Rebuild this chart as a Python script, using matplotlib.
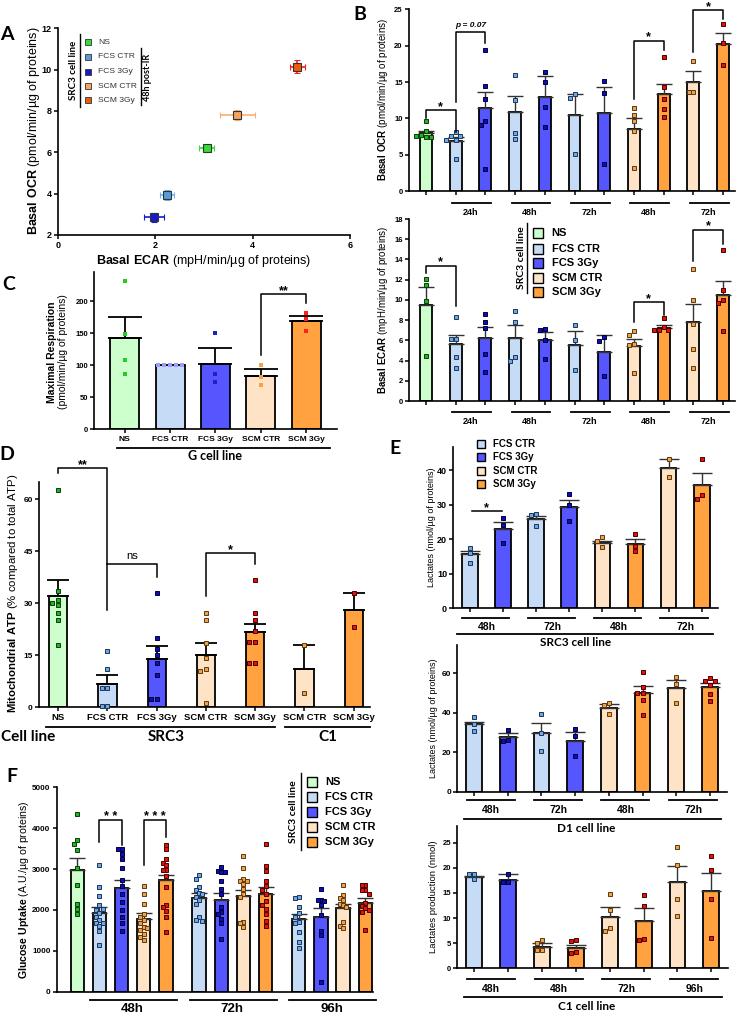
import numpy as np
import matplotlib
matplotlib.use("Agg")
import matplotlib.pyplot as plt
from matplotlib.lines import Line2D
from matplotlib.transforms import blended_transform_factory

plt.rcParams['font.family'] = ['Liberation Sans', 'DejaVu Sans']
plt.rcParams['mathtext.fontset'] = 'custom'
plt.rcParams['mathtext.rm'] = 'Liberation Sans'
plt.rcParams['mathtext.bf'] = 'Liberation Sans:bold'
plt.rcParams['axes.linewidth'] = 1.2

W, H = 738, 1015

# ---------------- data ----------------
conds = ['NS', 'FCS CTR', 'FCS 3Gy', 'SCM CTR', 'SCM 3Gy']

# A : basal OCR vs basal ECAR
a_ecar = [3.06, 2.24, 1.98, 3.69, 4.92]
a_ecar_err = [0.15, 0.15, 0.2, 0.35, 0.15]
a_ocr = [6.2, 3.95, 2.85, 7.82, 10.15]
a_ocr_err = [0.15, 0.25, 0.22, 0.25, 0.3]

# B : basal OCR / ECAR over time
b_cond = ['NS', 'FCS CTR', 'FCS 3Gy', 'FCS CTR', 'FCS 3Gy', 'FCS CTR', 'FCS 3Gy',
          'SCM CTR', 'SCM 3Gy', 'SCM CTR', 'SCM 3Gy']
b_times = ['24h', '48h', '72h', '48h', '72h']
ocr_mean = [8.0, 6.9, 11.4, 10.95, 12.95, 10.45, 10.8, 8.6, 13.35, 15.05, 20.2]
ocr_sem = [0.3, 0.5, 2.3, 2.1, 2.9, 2.9, 3.5, 1.45, 1.45, 1.5, 1.6]
ocr_pts = [[9.6, 8.3, 7.8, 7.5, 7.4, 7.6], [8.1, 7.6, 7.6, 7.0, 7.0, 4.5],
           [19.4, 14.5, 12.65, 9.67, 9.12, 3.0], [16.0, 12.6, 7.98, 7.24],
           [16.4, 15.0, 11.64, 8.9], [13.4, 12.8, 5.1], [15.1, 13.5, 3.8],
           [11.4, 10.45, 9.7, 8.3, 3.2], [18.4, 14.3, 12.7, 11.3, 10.2],
           [17.9, 13.65, 13.65], [23.0, 20.35, 17.4]]
ecar_mean = [9.47, 5.6, 6.2, 6.25, 6.05, 5.5, 4.85, 5.45, 7.25, 7.8, 10.5]
ecar_sem = [1.85, 0.9, 1.1, 1.25, 0.75, 1.4, 1.65, 0.7, 0.3, 1.75, 1.34]
ecar_pts = [[12.1, 11.45, 9.86, 4.5], [8.3, 6.17, 6.17, 4.4, 3.28],
            [8.57, 7.8, 7.2, 4.6, 2.9], [8.9, 7.8, 4.4, 3.97], [7.15, 7.0, 6.0, 4.16],
            [7.5, 6.07, 3.1], [6.3, 5.95, 2.5], [6.9, 6.56, 5.6, 5.5, 2.8],
            [8.2, 7.3, 7.05, 7.0, 7.0], [13.1, 9.96, 7.6, 5.15, 3.25],
            [14.9, 11.0, 10.0, 9.73, 6.92]]

# C : maximal respiration, G cell line
c_mean = [142.5, 100, 102, 83, 168.5]
c_sem = [33, 0, 25, 10.4, 9]
c_pts = [[231, 148, 108, 87], [100, 100, 100, 100, 100], [149.5, 86.6, 73.7],
         [100, 82, 69.5], [181.7, 171.8, 153.6]]

# D : mitochondrial ATP
d_cond = ['NS', 'FCS CTR', 'FCS 3Gy', 'SCM CTR', 'SCM 3Gy', 'SCM CTR', 'SCM 3Gy']
d_mean = [32.0, 6.5, 13.9, 15.0, 21.5, 10.9, 28.0]
d_sem = [4.6, 2.6, 3.7, 3.4, 2.5, 7.1, 5.0]
d_pts = [[62.6, 33.5, 31, 29.5, 27, 25, 17.8, 30], [16.2, 10.9, 5.4, 5.4, 0.3, 0.3],
         [33, 20, 16.6, 15, 12.8, 9.2, 2.3, 2.3], [27, 25, 18.4, 14, 11, 10.4, 1.1],
         [36.6, 27, 25, 22, 18.8, 18.8, 12.6, 12.6], [18, 4.1], [33, 23]]

# E : lactates
e_cond = ['FCS CTR', 'FCS 3Gy', 'FCS CTR', 'FCS 3Gy', 'SCM CTR', 'SCM 3Gy', 'SCM CTR', 'SCM 3Gy']
e_times = ['48h', '72h', '48h', '72h']
e1_mean = [15.55, 22.8, 25.7, 29.2, 18.9, 18.55, 40.6, 35.6]
e1_sem = [1.1, 2.2, 0.9, 2.1, 0.6, 1.4, 2.6, 3.7]
e1_pts = [[17.5, 16.1, 13.2], [26, 24.1, 18.8], [27.3, 26.9, 23.9], [33, 29.9, 25.2],
          [20.5, 19.5, 17.6], [21.4, 18.0, 16.6], [43.2, 38.1], [43.1, 32.8, 31.5]]
e2_mean = [34.1, 27.5, 29.6, 25.8, 42.2, 49.8, 52.5, 52.9]
e2_sem = [1.3, 2.1, 5.4, 4.6, 2.2, 3.7, 4.1, 2.3]
e2_pts = [[37.7, 34.3, 30.7], [31.2, 26.2, 25.7], [39.2, 29.6, 20.8], [31.9, 28.4, 18.1],
          [44.7, 43.9, 39.2], [60.8, 53, 49.8, 49.8, 46.4, 38.8], [58.2, 54.7, 45.1],
          [57.4, 56.2, 56.0, 54.0, 49.5, 45.9]]
e3_cond = ['FCS CTR', 'FCS 3Gy', 'SCM CTR', 'SCM 3Gy', 'SCM CTR', 'SCM 3Gy', 'SCM CTR', 'SCM 3Gy']
e3_times = ['48h', '48h', '72h', '96h']
e3_mean = [18.2, 17.6, 4.3, 4.1, 10.3, 9.5, 17.1, 15.3]
e3_sem = [0.2, 1.2, 0.8, 0.6, 1.8, 2.4, 3.3, 3.7]
e3_pts = [[18.7, 18.7, 17.7], [18.8, 17.1, 17.1], [5.6, 5.1, 3.65, 3.65], [5.6, 5.4, 3.2, 3.0],
          [14.7, 11.6, 8.0, 7.4], [14.6, 12.35, 5.9, 5.6], [24.1, 20.45, 13.75, 10.5],
          [22.4, 19.5, 13.8, 6.1]]

# F : glucose uptake
f_times = ['48h', '72h', '96h']
f_mean = [2970, 1920, 2540, 1770, 2740, 2290, 2240, 2330, 2400, 1780, 1830, 2050, 2160]
f_sem = [290, 150, 190, 150, 110, 130, 180, 160, 170, 130, 210, 100, 140]
f_pts = [[4350, 3700, 3620, 3470, 3020, 2600, 2150, 2030, 1890],
         [3100, 2560, 2330, 2110, 2010, 1930, 1830, 1750, 1670, 1670, 1600, 1480, 1140, 2030],
         [3480, 3480, 3370, 3250, 3020, 2740, 2580, 2400, 2200, 1990, 1830, 1670, 1490],
         [2585, 2400, 2150, 1890, 1830, 1750, 1670, 1590, 1500, 1420, 1340, 1260, 1570],
         [3600, 3480, 3250, 3150, 3090, 2970, 2820, 2110, 2070, 1980, 1830, 1460, 2970, 2560],
         [2860, 2760, 2560, 2500, 2410, 2400, 2320, 2240, 2150, 1830, 1750, 1730],
         [3050, 2950, 2930, 2920, 2720, 2520, 2400, 2070, 1950, 1890, 1790, 1670, 1300],
         [3310, 3030, 2760, 2720, 2720, 2640, 2520, 2400, 2320, 1710, 1690, 1590],
         [3620, 3080, 2960, 2720, 2590, 2400, 2210, 2120, 2030, 1890, 1720, 1600, 2500],
         [2320, 2280, 2070, 1930, 1830, 1710, 1670, 1460, 1220, 1060],
         [2520, 2240, 2240, 2230, 2120, 1870, 1490, 1380, 240],
         [2600, 2360, 2300, 2240, 2140, 2110, 2070, 1700, 1600, 1570],
         [2620, 2600, 2500, 2480, 2400, 2160, 2100, 2050, 2000, 1950, 1500]]

# ---------------- styles ----------------
bar_col = {'NS': '#ccffcc', 'FCS CTR': '#c6dcf6', 'FCS 3Gy': '#5656ff',
           'SCM CTR': '#ffe3c6', 'SCM 3Gy': '#ffa23f'}
pt_col = {'NS': '#1fb51f', 'FCS CTR': '#6fa8e8', 'FCS 3Gy': '#0d0dbf',
          'SCM CTR': '#f3a04c', 'SCM 3Gy': '#e3120b'}
pt_edge = {'NS': '#0b3d0b', 'FCS CTR': '#1d3557', 'FCS 3Gy': '#000033',
           'SCM CTR': '#5c3a10', 'SCM 3Gy': '#4a0000'}
c_pt_col = {'NS': '#22cc22', 'FCS CTR': '#9d9dff', 'FCS 3Gy': '#2020c8',
            'SCM CTR': '#ffa040', 'SCM 3Gy': '#ff2222'}
a_fill = {'NS': '#33dd33', 'FCS CTR': '#5b9bd5', 'FCS 3Gy': '#1a1acc',
          'SCM CTR': '#f4a460', 'SCM 3Gy': '#ee5a10'}
a_err = {'NS': '#33dd33', 'FCS CTR': '#6fb0ff', 'FCS 3Gy': '#1a1acc',
         'SCM CTR': '#f9b070', 'SCM 3Gy': '#ee2020'}

fig = plt.figure(figsize=(W / 100, H / 100), dpi=100)


def fx(x):
    return x / W


def fy(y):
    return 1 - y / H


def add_ax(l, t, r, b):
    ax = fig.add_axes([l / W, 1 - b / H, (r - l) / W, (b - t) / H])
    ax.patch.set_visible(False)
    ax.spines['top'].set_visible(False)
    ax.spines['right'].set_visible(False)
    ax.tick_params(direction='out', length=3, width=1.1, pad=1.5)
    return ax


def ftext(x, y, s, **kw):
    fig.text(fx(x), fy(y), s, **kw)


def fline(xs, ys, **kw):
    fig.add_artist(Line2D([fx(x) for x in xs], [fy(y) for y in ys], **kw))


def fmark(x, y, **kw):
    fig.add_artist(Line2D([fx(x)], [fy(y)], marker='s', linestyle='none', **kw))


def swarm(vals, dy, step, maxk):
    cands = [0]
    for k in range(1, maxk + 1):
        cands += [-k, k]
    placed, offs = [], []
    for v in vals:
        best = 0
        for k in cands:
            o = k * step
            if all(abs(v - pv) >= dy or abs(o - po) >= step * 0.95 for pv, po in placed):
                best = o
                break
        placed.append((v, best))
        offs.append(best)
    return offs


def draw_bars(ax, xs, cond, means, sems, pts, width, step, dy, maxk=2, cap=6,
              ms=3.3, ecol='#333333', elw=1.0, plain=False):
    for x, c, m, s, p in zip(xs, cond, means, sems, pts):
        ax.bar(x, m, width, color=bar_col[c], edgecolor='k', linewidth=1.3, zorder=2)
        if s > 0:
            ax.errorbar(x, m, yerr=[[0], [s]], color=ecol, capsize=cap, elinewidth=elw,
                        capthick=elw, zorder=3)
        offs = np.array(swarm(p, dy, step, maxk))
        if plain:
            ax.plot(x + offs, p, 's', ms=ms, mfc=c_pt_col[c], mec=c_pt_col[c], mew=0,
                    zorder=4, clip_on=False)
        else:
            ax.plot(x + offs, p, 's', ms=ms, mfc=pt_col[c], mec=pt_edge[c], mew=0.7,
                    zorder=4, clip_on=False)


def bold_ticks(ax, size):
    for t in ax.get_yticklabels() + ax.get_xticklabels():
        t.set_fontweight('bold')
        t.set_fontsize(size)


def bracket(ax, x1, x2, top, yl, yr, s, fs=9, style='normal', weight='bold', star=True):
    xs, ys = [x1, x1, x2, x2], [top, top, top, top]
    if yl is not None:
        ys[0] = yl
    if yr is not None:
        ys[3] = yr
    ax.plot(xs, ys, color='k', lw=1.1, clip_on=False, zorder=5)
    if star:
        ax.text((x1 + x2) / 2, top, s, ha='center', va='baseline', fontsize=fs,
                fontweight=weight, clip_on=False)
    else:
        ax.annotate(s, ((x1 + x2) / 2, top), xytext=(0, 2), textcoords='offset points',
                    ha='center', va='bottom', fontsize=fs, fontstyle=style,
                    fontweight=weight, annotation_clip=False)


def groups(ax, pairs, labels, yl, yt, fs, pad=(-0.2, 0.2)):
    tr = blended_transform_factory(ax.transData, fig.transFigure)
    for (a, b), lab in zip(pairs, labels):
        ax.plot([a + pad[0], b + pad[1]], [fy(yl)] * 2, color='k', lw=1.3,
                transform=tr, clip_on=False)
        ax.text((a + b) / 2, fy(yt), lab, transform=tr, ha='center', va='center',
                fontsize=fs, fontweight='bold')


def legend(xm, xt, ys, labels, fs, ms):
    for y, lab in zip(ys, labels):
        fmark(xm, y, ms=ms, mfc=bar_col[lab], mec='k', mew=1.0)
        ftext(xt, y, lab, fontsize=fs, fontweight='bold', va='center')


# ---------------- A ----------------
axA = add_ax(57.7, 28.3, 350, 235)
for i, c in enumerate(conds):
    axA.errorbar(a_ecar[i], a_ocr[i], xerr=a_ecar_err[i], yerr=a_ocr_err[i], fmt='s',
                 ms=6, mfc=a_fill[c], mec='#333333', mew=0.8, ecolor=a_err[c],
                 elinewidth=1.2, capsize=2.5, capthick=1.2)
axA.set_xlim(0, 6)
axA.set_ylim(2, 12)
axA.set_xticks([0, 2, 4, 6])
axA.set_yticks([2, 4, 6, 8, 10, 12])
bold_ticks(axA, 6.5)
ftext(34, 131, r'$\bf{Basal\ OCR}$ (pmol/min/µg of proteins)', rotation=90,
      ha='center', va='center', fontsize=9)
ftext(204, 261, r'$\bf{Basal\ ECAR}$ (mpH/min/µg of proteins)', ha='center',
      va='center', fontsize=9)
for y, c in zip([42, 57, 71.5, 86, 100], conds):
    fmark(88, y, ms=5, mfc=a_fill[c], mec='#333333', mew=0.6)
    ftext(98, y, c, fontsize=6.1, va='center', color='#333333')
ftext(73, 70, 'SRC3 cell line', rotation=90, ha='center', va='center', fontsize=7,
      fontweight='bold', family='Lato')
fline([80, 80], [34, 107], color='k', lw=1)
ftext(147, 77, '48h post-IR', rotation=90, ha='center', va='center', fontsize=6.5,
      fontweight='bold', family='Lato')
fline([141, 141], [48, 105], color='k', lw=1)

# ---------------- B ----------------
bx = np.arange(len(b_cond))
b_pairs = [(1, 2), (3, 4), (5, 6), (7, 8), (9, 10)]

axB1 = add_ax(409, 9.3, 735, 191.3)
draw_bars(axB1, bx, b_cond, ocr_mean, ocr_sem, ocr_pts, 0.4, 0.16, 0.6, cap=5.5)
axB1.set_xlim(-0.57, 10.4)
axB1.set_ylim(0, 25)
axB1.set_yticks(np.arange(0, 26, 5))
axB1.set_xticks(bx)
axB1.set_xticklabels([])
bold_ticks(axB1, 5.5)
bracket(axB1, 0, 1, 11.1, 10.0, 8.2, '*')
bracket(axB1, 1, 2, 21.9, 12.3, 20.4, 'p = 0.07', fs=6, style='italic', star=False)
bracket(axB1, 7, 8, 20.7, 12.7, 19.4, '*')
bracket(axB1, 9, 10, 24.9, 19.2, 23.7, '*')
groups(axB1, b_pairs, b_times, 203.3, 212.3, 6.5, pad=(-0.12, 0.19))
ftext(383, 100, r'$\bf{Basal\ OCR}$ (pmol/min/µg of proteins)', rotation=90,
      ha='center', va='center', fontsize=7)

axB2 = add_ax(409, 219, 735, 401)
draw_bars(axB2, bx, b_cond, ecar_mean, ecar_sem, ecar_pts, 0.4, 0.16, 0.45, cap=5.5)
axB2.set_xlim(-0.57, 10.4)
axB2.set_ylim(0, 18)
axB2.set_yticks(np.arange(0, 19, 2))
axB2.set_xticks(bx)
axB2.set_xticklabels([])
bold_ticks(axB2, 5.5)
bracket(axB2, 0, 1, 13.4, 12.7, 9.35, '*')
bracket(axB2, 7, 8, 9.8, 7.8, 8.5, '*')
bracket(axB2, 9, 10, 16.96, 13.8, 15.5, '*')
groups(axB2, b_pairs, b_times, 412.3, 421, 6.5, pad=(-0.12, 0.19))
ftext(383, 310, r'$\bf{Basal\ ECAR}$ (mpH/min/µg of proteins)', rotation=90,
      ha='center', va='center', fontsize=7)
legend(538.3, 551.7, [232.7, 248.7, 263, 278, 292.3], conds, 8, 6.5)
ftext(521.7, 258, 'SRC3 cell line', rotation=90, ha='center', va='center', fontsize=7.5,
      fontweight='bold', family='Lato')
fline([526.7, 526.7], [223, 293], color='k', lw=1)

# ---------------- C ----------------
cx = np.arange(len(conds))
axC = add_ax(94.3, 272.3, 337, 429.3)
draw_bars(axC, cx, conds, c_mean, c_sem, c_pts, 0.64, 0.13, 7, cap=12, ms=3.3,
          ecol='k', elw=1.3, plain=True)
axC.set_xlim(-0.67, 4.68)
axC.set_ylim(0, 245)
axC.set_yticks(np.arange(0, 201, 50))
axC.set_xticks(cx)
axC.set_xticklabels(conds)
bold_ticks(axC, 5.5)
for t in axC.get_xticklabels():
    t.set_fontsize(6)
bracket(axC, 3, 4, 210.8, 115.7, 197.8, '**')
trC = blended_transform_factory(axC.transData, fig.transFigure)
axC.plot([-0.18, 4.52], [fy(447.7)] * 2, color='k', lw=1.3, transform=trC, clip_on=False)
axC.text(2, fy(456), 'G cell line', transform=trC, ha='center', va='center', fontsize=9,
         fontweight='bold', family='Lato')
ftext(51.7, 352, 'Maximal Respiration', rotation=90, ha='center', va='center',
      fontsize=7.5, fontweight='bold')
ftext(63.3, 352, '(pmol/min/µg of proteins)', rotation=90, ha='center', va='center',
      fontsize=7.5)

# ---------------- D ----------------
dx = np.arange(len(d_cond))
axD = add_ax(39, 481.7, 370, 707)
draw_bars(axD, dx, d_cond, d_mean, d_sem, d_pts, 0.37, 0.12, 1.3, cap=8, ms=3.3,
          ecol='k', elw=1.3)
axD.set_xlim(-0.39, 6.33)
axD.set_ylim(0, 65)
axD.set_yticks([0, 15, 30, 45, 60])
axD.set_xticks(dx)
axD.set_xticklabels(d_cond)
bold_ticks(axD, 6)
for t in axD.get_xticklabels():
    t.set_fontsize(6.8)
bracket(axD, 0, 1, 69, 67.4, 28, '**')
bracket(axD, 1, 2, 41.4, None, 37.6, 'ns', fs=8, weight='normal', star=False)
bracket(axD, 3, 4, 44.3, 32, 41.4, '*')
trD = blended_transform_factory(axD.transData, fig.transFigure)
axD.plot([-0.25, 4.4], [fy(727.3)] * 2, color='k', lw=1.3, transform=trD, clip_on=False)
axD.plot([4.6, 6.33], [fy(727.3)] * 2, color='k', lw=1.3, transform=trD, clip_on=False)
axD.text(2.2, fy(737), 'SRC3', transform=trD, ha='center', va='center', fontsize=11,
         fontweight='bold', family='Lato')
axD.text(5.48, fy(737), 'C1', transform=trD, ha='center', va='center', fontsize=11,
         fontweight='bold', family='Lato')
ftext(1, 737, 'Cell line', ha='left', va='center', fontsize=11, fontweight='bold',
      family='Lato')
ftext(13, 593, r'$\bf{Mitochondrial\ ATP}$ (% compared to total ATP)', rotation=90,
      ha='center', va='center', fontsize=8.2)

# ---------------- E ----------------
ex = np.arange(len(e_cond))
e_pairs = [(0, 1), (2, 3), (4, 5), (6, 7)]

axE1 = add_ax(453.3, 446.7, 718.3, 608)
draw_bars(axE1, ex, e_cond, e1_mean, e1_sem, e1_pts, 0.47, 0.15, 1.3, cap=7)
axE1.set_xlim(-0.5, 7.5)
axE1.set_ylim(0, 46.8)
axE1.set_yticks([0, 10, 20, 30, 40])
axE1.set_xticks(ex)
axE1.set_xticklabels([])
bold_ticks(axE1, 6.5)
axE1.plot([0.05, 0.98], [28.2, 28.2], color='k', lw=1.1)
axE1.text(0.5, 28.2, '*', ha='center', va='baseline', fontsize=9, fontweight='bold')
groups(axE1, e_pairs, e_times, 617.7, 627.3, 7.5, pad=(-0.25, 0.18))
trE1 = blended_transform_factory(axE1.transData, fig.transFigure)
axE1.plot([-0.38, 7.35], [fy(634.3)] * 2, color='k', lw=1.3, transform=trE1, clip_on=False)
axE1.text(3.2, fy(642.5), 'SRC3 cell line', transform=trE1, ha='center', va='center',
          fontsize=8.5, fontweight='bold', family='Lato')
ftext(431, 527, 'Lactates (nmol/µg of proteins)', rotation=90, ha='center',
      va='center', fontsize=6.5)
legend(481, 492.7, [444, 457.3, 470.7, 484], conds[1:], 7, 5.5)

axE2 = add_ax(457.3, 645, 726.7, 791.7)
draw_bars(axE2, ex, e_cond, e2_mean, e2_sem, e2_pts, 0.47, 0.15, 2.3, cap=7)
axE2.set_xlim(-0.5, 7.5)
axE2.set_ylim(0, 74.3)
axE2.set_yticks([0, 20, 40, 60])
axE2.set_xticks(ex)
axE2.set_xticklabels([])
bold_ticks(axE2, 6)
groups(axE2, e_pairs, e_times, 800, 810, 7.5, pad=(-0.22, 0.2))
trE2 = blended_transform_factory(axE2.transData, fig.transFigure)
axE2.plot([-0.29, 7.32], [fy(819.3)] * 2, color='k', lw=1.3, transform=trE2, clip_on=False)
axE2.text(3.32, fy(828.5), 'D1 cell line', transform=trE2, ha='center', va='center',
          fontsize=8.5, fontweight='bold', family='Lato')
ftext(434, 718, 'Lactates (nmol/µg of proteins)', rotation=90, ha='center',
      va='center', fontsize=6.5)

axE3 = add_ax(457.3, 826, 728.3, 968.3)
draw_bars(axE3, ex, e3_cond, e3_mean, e3_sem, e3_pts, 0.47, 0.15, 0.9, cap=7)
axE3.set_xlim(-0.5, 7.5)
axE3.set_ylim(0, 28.3)
axE3.set_yticks([0, 5, 10, 15, 20, 25])
axE3.set_xticks(ex)
axE3.set_xticklabels([])
bold_ticks(axE3, 5.5)
groups(axE3, e_pairs, e3_times, 979, 989.3, 7.5, pad=(-0.22, 0.2))
trE3 = blended_transform_factory(axE3.transData, fig.transFigure)
axE3.plot([-0.29, 7.32], [fy(997.3)] * 2, color='k', lw=1.3, transform=trE3, clip_on=False)
axE3.text(3.32, fy(1006.5), 'C1 cell line', transform=trE3, ha='center', va='center',
          fontsize=8.5, fontweight='bold', family='Lato')
ftext(434, 897, 'Lactates production (nmol)', rotation=90, ha='center', va='center',
      fontsize=6.8)

# ---------------- F ----------------
f_cond = ['NS'] + conds[1:] * 3
f_x = [0.0] + [1 + 4.5 * g + i for g in range(3) for i in range(4)]
axF = add_ax(56.7, 787.3, 373, 991.7)
draw_bars(axF, f_x, f_cond, f_mean, f_sem, f_pts, 0.6, 0.15, 110, maxk=2, cap=6, ms=3.3)
axF.set_xlim(-0.93, 13.35)
axF.set_ylim(0, 5000)
axF.set_yticks(np.arange(0, 5001, 1000))
axF.set_xticks([])
bold_ticks(axF, 5.8)
bracket(axF, 1, 2, 4200, 3660, 3580, '* *')
bracket(axF, 3, 4, 4200, 3110, 3780, '* * *')
groups(axF, [(1, 4), (5.5, 8.5), (10, 13)], f_times, 1000, 1009, 9.5, pad=(-0.42, 0.5))
ftext(24, 890, r'$\bf{Glucose\ Uptake}$ (A.U./µg of proteins)', rotation=90,
      ha='center', va='center', fontsize=7.6)
legend(311.7, 325, [781.7, 796.7, 812.3, 827.3, 842.3], conds, 8, 6.5)
ftext(293.3, 811.7, 'SRC3 cell line', rotation=90, ha='center', va='center', fontsize=7.5,
      fontweight='bold', family='Lato')
fline([301, 301], [773.3, 850], color='k', lw=1)

# ---------------- panel letters ----------------
for s, (x, y) in zip('ABCDEF', [(7.3, 34.3), (360, 15), (8.3, 285), (7.3, 455),
                                (395, 448.3), (11.7, 776.7)]):
    ftext(x, y, s, ha='center', va='center', fontsize=14, fontweight='bold', family='Lato')

fig.savefig('out.png', dpi=100)
